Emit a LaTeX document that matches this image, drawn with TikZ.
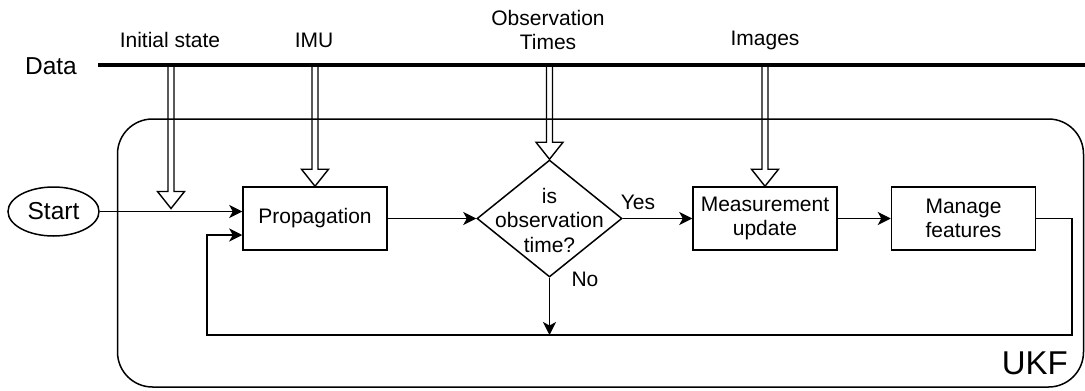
\documentclass[tikz,border=0pt]{standalone}
\usepackage{fontspec}
\setmainfont{Liberation Sans}
\usetikzlibrary{shapes.geometric,arrows.meta,calc}
\newcommand\hollowarrow[2]{%
  \draw[hollow] let \p1=(#1), \p2=(#2) in
    (\x2-3pt,\y1) -- (\x2-3pt,\y2+17pt) -- (\x2-13.5pt,\y2+17pt) -- (\x2,\y2)
    -- (\x2+13.5pt,\y2+17pt) -- (\x2+3pt,\y2+17pt) -- (\x2+3pt,\y1);}
\begin{document}
\begin{tikzpicture}[x=1pt,y=-1pt,
  box/.style={draw, line width=1.5pt, minimum width=144pt, minimum height=63pt, inner sep=0pt, align=center, font=\fontsize{21}{24.5}\selectfont},
  lbl/.style={font=\fontsize{21}{24.5}\selectfont, align=center, inner sep=0pt},
  big/.style={font=\fontsize{24.5}{28}\selectfont, inner sep=0pt},
  arr/.style={line width=1.4pt, -{Stealth[length=13pt,width=13pt,inset=3.5pt]}},
  hollow/.style={line width=1.4pt, line join=miter},
  ]
\useasboundingbox (0,0) rectangle (1085,391);

% container
\node[draw, rounded corners=35pt, line width=1.5pt, minimum width=966pt, minimum height=268pt, inner sep=0pt] (ukf) at (600.5,253) {};
\node[anchor=east, inner sep=0pt, font=\fontsize{33}{36}\selectfont] (ukflbl) at (1068,363) {UKF};

% data bus
\node[big] (data) at (51,66) {Data};
\coordinate (dL) at (98,65);
\coordinate (dR) at (1085,65);
\draw[line width=3.3pt] (dL) -- (dR);

\node[lbl] (lis) at (170,40) {Initial state};
\node[lbl] (limu) at (314,40) {IMU};
\node[lbl] (lobs) at (548,30) {Observation\\Times};
\node[lbl] (limg) at (765,40) {Images};

% process nodes
\node[draw, ellipse, line width=1.5pt, minimum width=91pt, minimum height=49pt, inner sep=0pt, font=\fontsize{24.5}{28}\selectfont] (start) at (53.5,211.5) {Start};
\node[box] (prop) at (315,218.5) {Propagation};
\node[draw, diamond, line width=1.5pt, minimum width=145pt, minimum height=117pt, inner sep=0pt] (dec) at (549.5,218.5) {};
\node[lbl] (dectext) at (549.5,220) {is\\observation\\time?};
\node[box] (meas) at (765,218.5) {Measurement\\update};
\node[box] (manage) at (963.5,218.5) {Manage\\features};

\coordinate (isTip) at (171,208.5);
\coordinate (fbR) at (1072,218.5);
\coordinate (fbB) at (207,335);

% hollow data arrows
\hollowarrow{dL}{isTip}
\hollowarrow{dL}{prop.north}
\hollowarrow{dL}{dec.north}
\hollowarrow{dL}{meas.north}

% connectors
\draw[arr] (start.east) -- (start.east -| prop.west);
\draw[arr] (prop.east) -- (dec.west);
\draw[arr] (dec.east) -- (meas.west);
\draw[arr] (meas.east) -- (manage.west);
\draw[arr] (manage.east) -- (fbR) |- (fbB) |- ([yshift=-16.5pt]prop.west);
\draw[arr] (dec.south) -- (dec.south |- fbB);

\node[lbl] (yes) at (638,202) {Yes};
\node[lbl] (no) at (585,279) {No};
\end{tikzpicture}
\end{document}
